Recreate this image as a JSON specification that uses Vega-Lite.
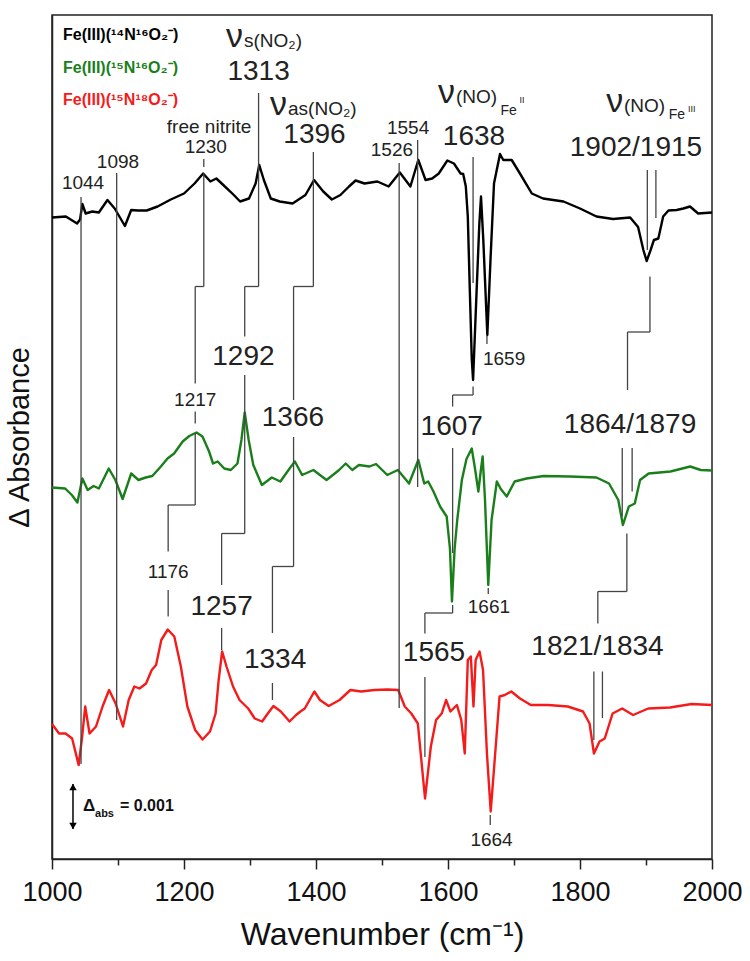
{
  "$schema": "https://vega.github.io/schema/vega-lite/v6.json",
  "width": 660,
  "height": 844,
  "autosize": {"type": "none"},
  "padding": {"left": 52, "top": 15, "right": 38, "bottom": 102},
  "background": "white",
  "config": {
    "view": {"stroke": "#222", "strokeWidth": 1.5},
    "font": "Liberation Sans",
    "text": {"font": "Liberation Sans"}
  },
  "datasets": {
    "spectra": [
      {"series":"14N16O2","x":1000,"y":128.3},{"series":"14N16O2","x":1021,"y":128.5},{"series":"14N16O2","x":1038,"y":127.1},{"series":"14N16O2","x":1042.5,"y":127.9},{"series":"14N16O2","x":1046,"y":131},{"series":"14N16O2","x":1051,"y":129.1},{"series":"14N16O2","x":1061,"y":129.5},{"series":"14N16O2","x":1071,"y":129.3},{"series":"14N16O2","x":1084,"y":131.8},{"series":"14N16O2","x":1095,"y":130.1},{"series":"14N16O2","x":1110.5,"y":126.6},{"series":"14N16O2","x":1120,"y":129.8},{"series":"14N16O2","x":1130,"y":129.7},{"series":"14N16O2","x":1143.5,"y":129.7},{"series":"14N16O2","x":1160,"y":130.5},{"series":"14N16O2","x":1180,"y":131.9},{"series":"14N16O2","x":1200,"y":133.1},{"series":"14N16O2","x":1216,"y":135.1},{"series":"14N16O2","x":1229,"y":137.1},{"series":"14N16O2","x":1240,"y":135.5},{"series":"14N16O2","x":1249,"y":136.1},{"series":"14N16O2","x":1262,"y":134.5},{"series":"14N16O2","x":1275.5,"y":132.8},{"series":"14N16O2","x":1285,"y":131.5},{"series":"14N16O2","x":1298.5,"y":132.1},{"series":"14N16O2","x":1308.5,"y":135.1},{"series":"14N16O2","x":1314,"y":138.8},{"series":"14N16O2","x":1321,"y":135.8},{"series":"14N16O2","x":1331.5,"y":132.1},{"series":"14N16O2","x":1345,"y":131.5},{"series":"14N16O2","x":1364.5,"y":131.1},{"series":"14N16O2","x":1384,"y":132.8},{"series":"14N16O2","x":1397,"y":135.8},{"series":"14N16O2","x":1411,"y":133.5},{"series":"14N16O2","x":1424,"y":131.9},{"series":"14N16O2","x":1437,"y":132.8},{"series":"14N16O2","x":1450,"y":134.5},{"series":"14N16O2","x":1460,"y":135.7},{"series":"14N16O2","x":1473.5,"y":135.1},{"series":"14N16O2","x":1493,"y":135.5},{"series":"14N16O2","x":1510,"y":134.5},{"series":"14N16O2","x":1527,"y":137.3},{"series":"14N16O2","x":1543,"y":134.5},{"series":"14N16O2","x":1555,"y":139.8},{"series":"14N16O2","x":1566,"y":135.8},{"series":"14N16O2","x":1576,"y":136.1},{"series":"14N16O2","x":1586,"y":137.1},{"series":"14N16O2","x":1599,"y":139.7},{"series":"14N16O2","x":1609,"y":139.1},{"series":"14N16O2","x":1619,"y":137.1},{"series":"14N16O2","x":1623,"y":137},{"series":"14N16O2","x":1627,"y":134.5},{"series":"14N16O2","x":1630,"y":128.5},{"series":"14N16O2","x":1633,"y":114},{"series":"14N16O2","x":1636,"y":100},{"series":"14N16O2","x":1638,"y":95.8},{"series":"14N16O2","x":1643.4,"y":113.8},{"series":"14N16O2","x":1647.5,"y":127.1},{"series":"14N16O2","x":1650,"y":132.5},{"series":"14N16O2","x":1653.5,"y":123.8},{"series":"14N16O2","x":1659.6,"y":104.8},{"series":"14N16O2","x":1664.6,"y":120.5},{"series":"14N16O2","x":1669.7,"y":135.1},{"series":"14N16O2","x":1678.8,"y":141},{"series":"14N16O2","x":1683.8,"y":139.8},{"series":"14N16O2","x":1696.5,"y":139.8},{"series":"14N16O2","x":1709,"y":137.1},{"series":"14N16O2","x":1727,"y":133.1},{"series":"14N16O2","x":1744,"y":132.1},{"series":"14N16O2","x":1775,"y":131.5},{"series":"14N16O2","x":1800,"y":130.1},{"series":"14N16O2","x":1825,"y":128.5},{"series":"14N16O2","x":1850,"y":128},{"series":"14N16O2","x":1876,"y":128.3},{"series":"14N16O2","x":1888,"y":126.4},{"series":"14N16O2","x":1896,"y":121.8},{"series":"14N16O2","x":1901,"y":119.6},{"series":"14N16O2","x":1907,"y":121.8},{"series":"14N16O2","x":1912,"y":123.8},{"series":"14N16O2","x":1918.7,"y":124.1},{"series":"14N16O2","x":1926,"y":128.5},{"series":"14N16O2","x":1934,"y":129.7},{"series":"14N16O2","x":1946.5,"y":129.8},{"series":"14N16O2","x":1956.5,"y":130.1},{"series":"14N16O2","x":1966.7,"y":130.5},{"series":"14N16O2","x":1979,"y":129.1},{"series":"14N16O2","x":2000,"y":129.3},

      {"series":"15N16O2","x":1000,"y":74.3},{"series":"15N16O2","x":1020,"y":74.1},{"series":"15N16O2","x":1030,"y":72.8},{"series":"15N16O2","x":1038.5,"y":71.3},{"series":"15N16O2","x":1046,"y":76.1},{"series":"15N16O2","x":1054,"y":73.8},{"series":"15N16O2","x":1063,"y":74.6},{"series":"15N16O2","x":1071,"y":74.1},{"series":"15N16O2","x":1086,"y":78.1},{"series":"15N16O2","x":1096,"y":75.8},{"series":"15N16O2","x":1107,"y":72},{"series":"15N16O2","x":1120,"y":77.1},{"series":"15N16O2","x":1131,"y":75.8},{"series":"15N16O2","x":1142,"y":76.3},{"series":"15N16O2","x":1152,"y":76.6},{"series":"15N16O2","x":1165,"y":78.5},{"series":"15N16O2","x":1175,"y":80.1},{"series":"15N16O2","x":1185,"y":81.1},{"series":"15N16O2","x":1198,"y":83.5},{"series":"15N16O2","x":1208,"y":84.6},{"series":"15N16O2","x":1219,"y":85.3},{"series":"15N16O2","x":1228,"y":84.5},{"series":"15N16O2","x":1238,"y":81.5},{"series":"15N16O2","x":1244,"y":79.1},{"series":"15N16O2","x":1251,"y":79.5},{"series":"15N16O2","x":1261,"y":78.1},{"series":"15N16O2","x":1271,"y":77.8},{"series":"15N16O2","x":1281,"y":79.1},{"series":"15N16O2","x":1287,"y":83.8},{"series":"15N16O2","x":1292,"y":89.3},{"series":"15N16O2","x":1298,"y":83.8},{"series":"15N16O2","x":1305,"y":78.8},{"series":"15N16O2","x":1318,"y":74.8},{"series":"15N16O2","x":1333,"y":76.3},{"series":"15N16O2","x":1346,"y":75.5},{"series":"15N16O2","x":1360,"y":78.1},{"series":"15N16O2","x":1368,"y":79.5},{"series":"15N16O2","x":1379,"y":76.8},{"series":"15N16O2","x":1396,"y":77.8},{"series":"15N16O2","x":1416,"y":75.8},{"series":"15N16O2","x":1435,"y":77.8},{"series":"15N16O2","x":1445,"y":79.1},{"series":"15N16O2","x":1455,"y":77.8},{"series":"15N16O2","x":1465,"y":78.8},{"series":"15N16O2","x":1481,"y":78.5},{"series":"15N16O2","x":1491,"y":79},{"series":"15N16O2","x":1508,"y":76.8},{"series":"15N16O2","x":1524,"y":77.8},{"series":"15N16O2","x":1541,"y":75.1},{"series":"15N16O2","x":1555,"y":79.8},{"series":"15N16O2","x":1564,"y":75.1},{"series":"15N16O2","x":1570,"y":75.5},{"series":"15N16O2","x":1578,"y":73.5},{"series":"15N16O2","x":1588,"y":70.5},{"series":"15N16O2","x":1598,"y":68.5},{"series":"15N16O2","x":1603,"y":62},{"series":"15N16O2","x":1606,"y":51.5},{"series":"15N16O2","x":1610,"y":62},{"series":"15N16O2","x":1614,"y":67.8},{"series":"15N16O2","x":1621,"y":75.8},{"series":"15N16O2","x":1628,"y":80},{"series":"15N16O2","x":1636,"y":82.1},{"series":"15N16O2","x":1641,"y":78},{"series":"15N16O2","x":1646,"y":73.5},{"series":"15N16O2","x":1650,"y":78},{"series":"15N16O2","x":1652.5,"y":80.5},{"series":"15N16O2","x":1656,"y":72},{"series":"15N16O2","x":1661,"y":54.8},{"series":"15N16O2","x":1666,"y":67.8},{"series":"15N16O2","x":1674,"y":75.5},{"series":"15N16O2","x":1680,"y":74},{"series":"15N16O2","x":1689,"y":72.5},{"series":"15N16O2","x":1701,"y":75.5},{"series":"15N16O2","x":1719,"y":76.1},{"series":"15N16O2","x":1745,"y":76.6},{"series":"15N16O2","x":1785,"y":76.5},{"series":"15N16O2","x":1825,"y":76.3},{"series":"15N16O2","x":1844,"y":75.1},{"series":"15N16O2","x":1858,"y":71.8},{"series":"15N16O2","x":1865,"y":66.8},{"series":"15N16O2","x":1874,"y":70.5},{"series":"15N16O2","x":1883,"y":71.1},{"series":"15N16O2","x":1891,"y":75.8},{"series":"15N16O2","x":1904,"y":77.1},{"series":"15N16O2","x":1937,"y":77.5},{"series":"15N16O2","x":1967,"y":78.5},{"series":"15N16O2","x":1983,"y":77.8},{"series":"15N16O2","x":2000,"y":77.7},

      {"series":"15N18O2","x":1000,"y":27},{"series":"15N18O2","x":1010.7,"y":25.1},{"series":"15N18O2","x":1020.6,"y":25.1},{"series":"15N18O2","x":1030.5,"y":24.1},{"series":"15N18O2","x":1040.4,"y":18.8},{"series":"15N18O2","x":1045.7,"y":24.5},{"series":"15N18O2","x":1050.3,"y":30.5},{"series":"15N18O2","x":1056.9,"y":25.1},{"series":"15N18O2","x":1066.7,"y":26.5},{"series":"15N18O2","x":1076.6,"y":30.5},{"series":"15N18O2","x":1086.5,"y":33.8},{"series":"15N18O2","x":1096.4,"y":31.1},{"series":"15N18O2","x":1107.6,"y":26.5},{"series":"15N18O2","x":1116.2,"y":31.8},{"series":"15N18O2","x":1124.7,"y":34.5},{"series":"15N18O2","x":1132.6,"y":34.1},{"series":"15N18O2","x":1142.5,"y":35.1},{"series":"15N18O2","x":1151.1,"y":37.8},{"series":"15N18O2","x":1157.7,"y":38.8},{"series":"15N18O2","x":1165.6,"y":43.8},{"series":"15N18O2","x":1175.4,"y":45.9},{"series":"15N18O2","x":1185.3,"y":44.5},{"series":"15N18O2","x":1195.2,"y":38.5},{"series":"15N18O2","x":1205.1,"y":30.5},{"series":"15N18O2","x":1216.9,"y":25.8},{"series":"15N18O2","x":1228.1,"y":23.9},{"series":"15N18O2","x":1239.4,"y":25.5},{"series":"15N18O2","x":1247.9,"y":29.1},{"series":"15N18O2","x":1252.5,"y":35.8},{"series":"15N18O2","x":1257.8,"y":41.5},{"series":"15N18O2","x":1264.4,"y":38.5},{"series":"15N18O2","x":1274.3,"y":34.5},{"series":"15N18O2","x":1284.1,"y":31.8},{"series":"15N18O2","x":1297.3,"y":30.1},{"series":"15N18O2","x":1307.2,"y":28.1},{"series":"15N18O2","x":1318.4,"y":27.5},{"series":"15N18O2","x":1327,"y":29.1},{"series":"15N18O2","x":1335.5,"y":30.6},{"series":"15N18O2","x":1346.7,"y":29.5},{"series":"15N18O2","x":1359.9,"y":27.5},{"series":"15N18O2","x":1369.8,"y":28.8},{"series":"15N18O2","x":1376.4,"y":29.5},{"series":"15N18O2","x":1383,"y":30.1},{"series":"15N18O2","x":1397.5,"y":33.5},{"series":"15N18O2","x":1406,"y":31.8},{"series":"15N18O2","x":1419.2,"y":30.6},{"series":"15N18O2","x":1435.7,"y":31.8},{"series":"15N18O2","x":1452.1,"y":33.8},{"series":"15N18O2","x":1468.6,"y":33.5},{"series":"15N18O2","x":1488.4,"y":33.8},{"series":"15N18O2","x":1508.1,"y":33.9},{"series":"15N18O2","x":1524.6,"y":33.8},{"series":"15N18O2","x":1534.5,"y":30.5},{"series":"15N18O2","x":1544.4,"y":29.1},{"series":"15N18O2","x":1554.3,"y":27.1},{"series":"15N18O2","x":1565.2,"y":12.1},{"series":"15N18O2","x":1574,"y":22.5},{"series":"15N18O2","x":1581.9,"y":27.8},{"series":"15N18O2","x":1590.5,"y":29.1},{"series":"15N18O2","x":1597.1,"y":31.8},{"series":"15N18O2","x":1603.7,"y":29.5},{"series":"15N18O2","x":1613.5,"y":30.8},{"series":"15N18O2","x":1620.1,"y":27.8},{"series":"15N18O2","x":1625.4,"y":21.1},{"series":"15N18O2","x":1630,"y":39.8},{"series":"15N18O2","x":1634.6,"y":40.5},{"series":"15N18O2","x":1638.6,"y":30.5},{"series":"15N18O2","x":1641.9,"y":39.8},{"series":"15N18O2","x":1647.8,"y":41.5},{"series":"15N18O2","x":1653.1,"y":37.8},{"series":"15N18O2","x":1659,"y":21.1},{"series":"15N18O2","x":1664.7,"y":9.5},{"series":"15N18O2","x":1671.5,"y":21.1},{"series":"15N18O2","x":1678.1,"y":32.5},{"series":"15N18O2","x":1686,"y":32.8},{"series":"15N18O2","x":1695.9,"y":33.5},{"series":"15N18O2","x":1709.1,"y":32.1},{"series":"15N18O2","x":1725.5,"y":30.8},{"series":"15N18O2","x":1751.9,"y":30.8},{"series":"15N18O2","x":1781.5,"y":30.5},{"series":"15N18O2","x":1804.6,"y":29.5},{"series":"15N18O2","x":1814.5,"y":27.1},{"series":"15N18O2","x":1821.1,"y":21.1},{"series":"15N18O2","x":1829.6,"y":23.5},{"series":"15N18O2","x":1837.5,"y":24.1},{"series":"15N18O2","x":1849.4,"y":29.1},{"series":"15N18O2","x":1863.9,"y":30.1},{"series":"15N18O2","x":1880.4,"y":28.8},{"series":"15N18O2","x":1903.4,"y":30.1},{"series":"15N18O2","x":1936.4,"y":30.3},{"series":"15N18O2","x":1969.1,"y":31},{"series":"15N18O2","x":2000,"y":30.8}
    ],
    "segs": [
      {"x":1044,"x2":1044,"y":132.4,"y2":19},
      {"x":1098,"x2":1098,"y":137.2,"y2":27.8},
      {"x":1526,"x2":1526,"y":139.2,"y2":30.2},
      {"x":1554,"x2":1554,"y":143.8,"y2":74.4},
      {"x":1230,"x2":1230,"y":140,"y2":138.4},
      {"x":1230,"x2":1230,"y":137.2,"y2":114.5},
      {"x":1217,"x2":1230,"y":114.5,"y2":114.5},
      {"x":1217,"x2":1217,"y":114.5,"y2":95.1},
      {"x":1217,"x2":1217,"y":89.5,"y2":87.1},
      {"x":1217,"x2":1217,"y":85.2,"y2":70.8},
      {"x":1176,"x2":1217,"y":70.8,"y2":70.8},
      {"x":1176,"x2":1176,"y":70.8,"y2":61.5},
      {"x":1176,"x2":1176,"y":53.8,"y2":48.5},
      {"x":1313,"x2":1313,"y":153.2,"y2":114.5},
      {"x":1292,"x2":1313,"y":114.5,"y2":114.5},
      {"x":1292,"x2":1292,"y":114.5,"y2":104.5},
      {"x":1292,"x2":1292,"y":96.8,"y2":65.1},
      {"x":1257,"x2":1292,"y":65.1,"y2":65.1},
      {"x":1257,"x2":1257,"y":65.1,"y2":54.8},
      {"x":1257,"x2":1257,"y":46.2,"y2":41.8},
      {"x":1396,"x2":1396,"y":141.4,"y2":114.5},
      {"x":1366,"x2":1396,"y":114.5,"y2":114.5},
      {"x":1366,"x2":1366,"y":114.5,"y2":91.8},
      {"x":1366,"x2":1366,"y":84.4,"y2":58.5},
      {"x":1334,"x2":1366,"y":58.5,"y2":58.5},
      {"x":1334,"x2":1334,"y":58.5,"y2":45.2},
      {"x":1334,"x2":1334,"y":35.2,"y2":31.8},
      {"x":1638,"x2":1638,"y":140.4,"y2":115.2},
      {"x":1638,"x2":1638,"y":94.5,"y2":92.8},
      {"x":1607,"x2":1638,"y":92.8,"y2":92.8},
      {"x":1607,"x2":1607,"y":92.8,"y2":90.5},
      {"x":1607,"x2":1607,"y":82.2,"y2":61.2},
      {"x":1607,"x2":1607,"y":50.8,"y2":49.2},
      {"x":1565,"x2":1607,"y":49.2,"y2":49.2},
      {"x":1565,"x2":1565,"y":49.2,"y2":45.1},
      {"x":1565,"x2":1565,"y":36.4,"y2":20.4},
      {"x":1659,"x2":1659,"y":104.6,"y2":103},
      {"x":1661,"x2":1661,"y":54.2,"y2":53},
      {"x":1664,"x2":1664,"y":8.8,"y2":6.8},
      {"x":1902,"x2":1902,"y":137.8,"y2":121.8},
      {"x":1915,"x2":1915,"y":137.8,"y2":128.2},
      {"x":1906,"x2":1906,"y":116.5,"y2":105.4},
      {"x":1872,"x2":1906,"y":105.4,"y2":105.4},
      {"x":1872,"x2":1872,"y":105.4,"y2":93.8},
      {"x":1864,"x2":1864,"y":82.2,"y2":68.5},
      {"x":1879,"x2":1879,"y":82.2,"y2":73.5},
      {"x":1871,"x2":1871,"y":65.1,"y2":53.5},
      {"x":1827,"x2":1871,"y":53.5,"y2":53.5},
      {"x":1827,"x2":1827,"y":53.5,"y2":47.1},
      {"x":1821,"x2":1821,"y":37.5,"y2":23.8},
      {"x":1834,"x2":1834,"y":37.5,"y2":28.2}
    ],
    "labels": [
      {"kind":"small","x":1047,"y":135.2,"text":"1044"},
      {"kind":"small","x":1100,"y":139.4,"text":"1098"},
      {"kind":"small","x":1238,"y":146.4,"text":"free nitrite"},
      {"kind":"small","x":1233,"y":142.4,"text":"1230"},
      {"kind":"small","x":1515,"y":141.8,"text":"1526"},
      {"kind":"small","x":1539.5,"y":146.2,"text":"1554"},
      {"kind":"small","x":1217,"y":91.8,"text":"1217"},
      {"kind":"small","x":1685,"y":100.1,"text":"1659"},
      {"kind":"small","x":1176,"y":57.5,"text":"1176"},
      {"kind":"small","x":1662,"y":50.5,"text":"1661"},
      {"kind":"small","x":1666,"y":3.8,"text":"1664"},
      {"kind":"large","x":1313,"y":157.4,"text":"1313"},
      {"kind":"large","x":1397.7,"y":144.8,"text":"1396"},
      {"kind":"large","x":1639.4,"y":144.5,"text":"1638"},
      {"kind":"large","x":1884.8,"y":142.2,"text":"1902/1915"},
      {"kind":"large","x":1290,"y":100.5,"text":"1292"},
      {"kind":"large","x":1365,"y":88.2,"text":"1366"},
      {"kind":"large","x":1605.6,"y":86.5,"text":"1607"},
      {"kind":"large","x":1875.8,"y":86.8,"text":"1864/1879"},
      {"kind":"large","x":1257,"y":50.5,"text":"1257"},
      {"kind":"large","x":1338,"y":39.8,"text":"1334"},
      {"kind":"large","x":1578.8,"y":41.2,"text":"1565"},
      {"kind":"large","x":1826.5,"y":42.5,"text":"1821/1834"}
    ],
    "legend": [
      {"series":"14N16O2","x":1016.7,"y":164.8,"text":"Fe(III)(¹⁴N¹⁶O₂⁻)"},
      {"series":"15N16O2","x":1016.7,"y":158.2,"text":"Fe(III)(¹⁵N¹⁶O₂⁻)"},
      {"series":"15N18O2","x":1016.7,"y":151.8,"text":"Fe(III)(¹⁵N¹⁸O₂⁻)"}
    ],
    "nu": [
      {"x":1289.4,"y":162.4,"text":"ν"},
      {"x":1356.1,"y":148.8,"text":"ν"},
      {"x":1610.6,"y":151.3,"text":"ν"},
      {"x":1865.7,"y":149.5,"text":"ν"}
    ],
    "nuSuffix": [
      {"x":1290.9,"y":162.4,"text":"s(NO₂)"},
      {"x":1357.6,"y":148.8,"text":"as(NO₂)"},
      {"x":1612.1,"y":151.3,"text":"(NO)"},
      {"x":1866.7,"y":149.5,"text":"(NO)"}
    ],
    "feSub": [
      {"x":1679.5,"y":148.8,"text":"Fe"},
      {"x":1934.5,"y":148.1,"text":"Fe"}
    ],
    "feSup": [
      {"x":1708.5,"y":151.3,"text":"II"},
      {"x":1963.5,"y":149.5,"text":"III"}
    ],
    "bar": [
      {"x":1031.8,"x2":1031.8,"y":15,"y2":6}
    ],
    "barHeads": [
      {"x":1031.8,"y":14.4,"dir":"up"},
      {"x":1031.8,"y":6.6,"dir":"down"}
    ],
    "barText": [
      {"part":"delta","x":1046.9,"y":10.6,"text":"Δ"},
      {"part":"sub","x":1065.2,"y":9.0,"text":"abs"},
      {"part":"value","x":1103,"y":10.6,"text":"= 0.001"}
    ]
  },
  "encoding": {
    "x": {
      "field": "x",
      "type": "quantitative",
      "scale": {"domain": [1000, 2000], "nice": false, "zero": false},
      "axis": {
        "title": "Wavenumber (cm⁻¹)",
        "values": [1000,1100,1200,1300,1400,1500,1600,1700,1800,1900,2000],
        "format": "d",
        "labelExpr": "datum.value % 200 == 0 ? datum.label : ''",
        "tickSize": {"condition": {"test": "datum.value % 200 == 0", "value": 10}, "value": 6},
        "grid": false,
        "domainColor": "#222",
        "domainWidth": 1.5,
        "tickColor": "#222",
        "tickWidth": 1.5,
        "labelFontSize": 27,
        "labelFont": "Liberation Sans",
        "labelColor": "#111",
        "labelPadding": 10,
        "labelFlush": false,
        "labelOverlap": false,
        "titleFontSize": 32,
        "titleFont": "Liberation Sans",
        "titleFontWeight": "normal",
        "titleColor": "#111",
        "titlePadding": 14
      }
    },
    "y": {
      "field": "y",
      "type": "quantitative",
      "scale": {"domain": [0, 168.8], "nice": false, "zero": false},
      "axis": {
        "title": "Δ Absorbance",
        "labels": false,
        "ticks": false,
        "grid": false,
        "domainColor": "#222",
        "domainWidth": 1.5,
        "titleFontSize": 29,
        "titleFont": "Liberation Sans",
        "titleFontWeight": "normal",
        "titleColor": "#111",
        "titlePadding": 18
      }
    }
  },
  "layer": [
    {
      "data": {"name": "spectra"},
      "mark": {"type": "line", "strokeWidth": 2.4, "strokeJoin": "round"},
      "encoding": {
        "color": {
          "field": "series",
          "type": "nominal",
          "scale": {"domain": ["14N16O2","15N16O2","15N18O2"], "range": ["#000000","#1a7f1a","#f51b1b"]},
          "legend": null
        }
      }
    },
    {
      "data": {"name": "segs"},
      "mark": {"type": "rule", "color": "#444", "strokeWidth": 1.3},
      "encoding": {
        "x2": {"field": "x2"},
        "y2": {"field": "y2"}
      }
    },
    {
      "data": {"name": "labels"},
      "transform": [{"filter": "datum.kind == 'small'"}],
      "mark": {"type": "text", "fontSize": 19, "color": "#222", "align": "center", "baseline": "middle"},
      "encoding": {"text": {"field": "text"}}
    },
    {
      "data": {"name": "labels"},
      "transform": [{"filter": "datum.kind == 'large'"}],
      "mark": {"type": "text", "fontSize": 28, "color": "#222", "align": "center", "baseline": "middle"},
      "encoding": {"text": {"field": "text"}}
    },
    {
      "data": {"name": "legend"},
      "mark": {"type": "text", "fontSize": 16, "fontWeight": "bold", "align": "left", "baseline": "middle"},
      "encoding": {
        "text": {"field": "text"},
        "color": {"field": "series", "type": "nominal", "legend": null}
      }
    },
    {
      "data": {"name": "nu"},
      "mark": {"type": "text", "fontSize": 34, "color": "#222", "align": "right", "baseline": "alphabetic"},
      "encoding": {"text": {"field": "text"}}
    },
    {
      "data": {"name": "nuSuffix"},
      "mark": {"type": "text", "fontSize": 19, "color": "#222", "align": "left", "baseline": "alphabetic"},
      "encoding": {"text": {"field": "text"}}
    },
    {
      "data": {"name": "feSub"},
      "mark": {"type": "text", "fontSize": 14, "color": "#222", "align": "left", "baseline": "alphabetic"},
      "encoding": {"text": {"field": "text"}}
    },
    {
      "data": {"name": "feSup"},
      "mark": {"type": "text", "fontSize": 9, "color": "#222", "align": "left", "baseline": "alphabetic"},
      "encoding": {"text": {"field": "text"}}
    },
    {
      "data": {"name": "bar"},
      "mark": {"type": "rule", "color": "#000", "strokeWidth": 1.5},
      "encoding": {
        "x2": {"field": "x2"},
        "y2": {"field": "y2"}
      }
    },
    {
      "data": {"name": "barHeads"},
      "mark": {"type": "point", "filled": true, "color": "#000", "size": 55, "opacity": 1},
      "encoding": {
        "shape": {"field": "dir", "type": "nominal", "scale": {"domain": ["up","down"], "range": ["triangle-up","triangle-down"]}, "legend": null}
      }
    },
    {
      "data": {"name": "barText"},
      "transform": [{"filter": "datum.part == 'delta'"}],
      "mark": {"type": "text", "fontSize": 17, "fontWeight": "bold", "color": "#111", "align": "left", "baseline": "middle"},
      "encoding": {"text": {"field": "text"}}
    },
    {
      "data": {"name": "barText"},
      "transform": [{"filter": "datum.part == 'sub'"}],
      "mark": {"type": "text", "fontSize": 11, "fontWeight": "bold", "color": "#111", "align": "left", "baseline": "middle"},
      "encoding": {"text": {"field": "text"}}
    },
    {
      "data": {"name": "barText"},
      "transform": [{"filter": "datum.part == 'value'"}],
      "mark": {"type": "text", "fontSize": 16, "fontWeight": "bold", "color": "#111", "align": "left", "baseline": "middle"},
      "encoding": {"text": {"field": "text"}}
    }
  ]
}
